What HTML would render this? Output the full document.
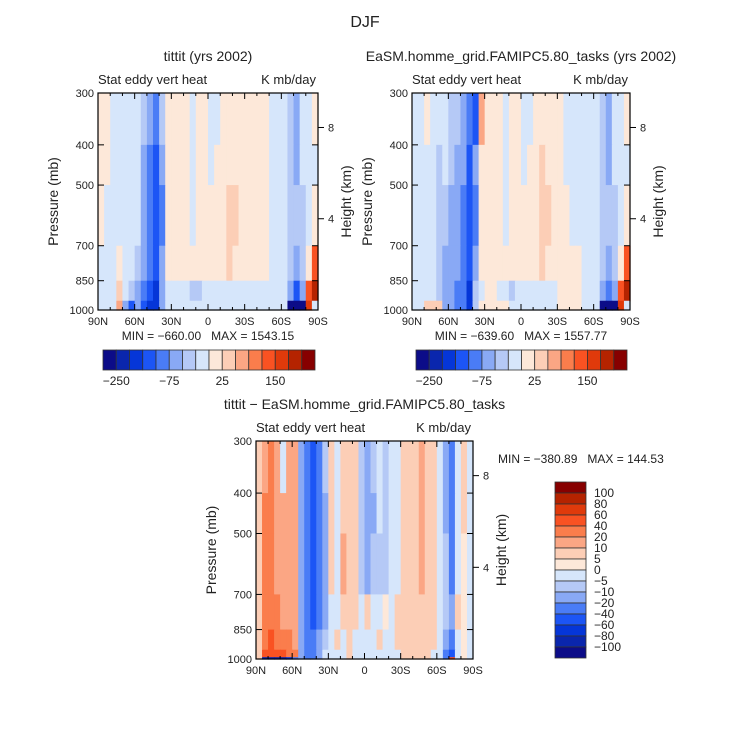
<!DOCTYPE html>
<html><head><meta charset="utf-8">
<style>
body{margin:0;background:#fff;}
svg{display:block;font-family:"Liberation Sans",sans-serif;}
text{white-space:pre;}
</style></head>
<body>
<svg id="fig" width="732" height="752" viewBox="0 0 732 752">
<text x="365" y="27" font-size="16" text-anchor="middle" fill="#222">DJF</text>
</svg>
<script>
// ---- data ----
const latTicks = ["90N","60N","30N","0","30S","60S","90S"];
const presTicks = [300,400,500,700,850,1000];
const heightTicks = [8,4];
const pressureBands = [300,400,500,700,850,950,990,1000];
const levelsAbs = [-250,-200,-150,-100,-75,-50,-25,0,25,50,75,100,150,200,250];
const levelsDiff = [-100,-80,-60,-40,-20,-10,-5,0,5,10,20,40,60,80,100];
const cbLabelsAbs = ["\u2212250","\u221275","25","150"];
const cbLabelsDiff = ["100","80","60","40","20","10","5","0","\u22125","\u221210","\u221220","\u221240","\u221260","\u221280","\u2212100"];
const colors = ["#0c0c88","#0a26ad","#0536d8","#1c55f5","#4a7cf6","#89a9f5","#b5c9f6","#d6e6fb","#fde8d9","#fcceb6","#fba684","#fa7d4c","#f95222","#e03a0b","#b52300","#870000"];

const grid1 = [
[5,5,-3,-3,-3,-3,-10,-40,-60,-80,-40,10,5,5,5,-3,5,5,-3,-3,5,5,5,5,5,5,5,5,-3,-3,-3,-30,-60,-3,-3,5],
[5,5,-3,-3,-3,-3,-10,-60,-80,-110,-60,5,5,5,5,-3,5,5,-3,5,5,5,5,5,5,5,5,5,-3,-3,-3,-30,-60,-10,-3,-3],
[5,-3,-3,-3,-3,-3,-10,-60,-90,-110,-80,5,5,5,5,-3,5,5,5,5,5,30,30,5,5,5,5,5,-3,-3,-3,-30,-50,-30,-3,5],
[-3,-3,-3,5,-3,-3,-30,-60,-90,-120,-60,5,5,5,5,5,5,5,5,5,5,30,5,5,5,5,5,5,-3,-3,-3,-30,-60,-30,5,100],
[-3,-3,-3,30,-3,-30,-60,-90,-110,-160,-60,-3,-3,-3,-3,-30,-30,-3,-3,-3,-3,-3,-3,-3,-3,-3,-3,-3,-3,-3,-3,-60,-120,-60,100,200],
[-3,-3,-3,60,-60,-120,-60,-120,-160,-160,-60,-3,-3,-3,-3,-3,-3,-3,-3,-3,-3,-3,-3,-3,-3,-3,-3,-3,-3,-3,-3,-300,-300,-300,150,-3],
[-3,-3,-3,60,-60,-120,-60,-120,-160,-160,-60,-3,-3,-3,-3,-3,-3,-3,-3,-3,-3,-3,-3,-3,-3,-3,-3,-3,-3,-3,-3,-300,-300,-300,150,-3]
];
const grid2 = [
[-3,-3,5,-3,-3,-3,-30,-30,-60,-80,-110,60,5,5,5,-3,5,5,-3,-3,5,5,5,5,5,-3,-3,-3,-3,-3,-3,-30,-60,-3,-3,5],
[-3,-3,-3,-3,-30,-3,-30,-60,-60,-110,-60,5,5,5,5,-3,5,5,-3,5,5,30,5,5,5,-3,-3,-3,-3,-3,-3,-30,-60,-10,-3,-3],
[-3,-3,-3,-3,-30,-30,-60,-60,-80,-110,-80,5,5,5,5,-3,5,5,5,5,5,30,30,5,5,5,-3,-3,-3,-3,-3,-30,-50,-30,-3,5],
[-3,-3,-3,-3,-30,-60,-60,-60,-80,-120,-60,5,5,5,5,5,5,5,5,5,5,30,5,5,5,5,5,5,-3,-3,-3,-30,-60,-30,5,100],
[-3,-3,-3,-3,-30,-60,-60,-80,-80,-160,-30,-3,5,5,-3,-3,-30,-3,-3,-3,-3,-3,-3,-3,5,5,5,5,-3,-3,-3,-60,-100,-60,100,200],
[-3,-3,30,30,30,-60,-60,-80,-100,-160,-30,5,5,5,5,5,-3,-3,-3,-3,-3,-3,-3,-3,5,5,5,5,-3,-3,-3,-300,-300,-300,150,-3],
[-3,-3,30,30,30,-60,-60,-80,-100,-160,-30,5,5,5,5,5,-3,-3,-3,-3,-3,-3,-3,-3,5,5,5,5,-3,-3,-3,-300,-300,-300,150,-3]
];
const grid3 = [
[5,15,30,10,-3,15,10,-20,-40,-60,-40,-10,5,-3,5,5,5,-10,-20,-10,-3,-10,-5,-3,5,5,5,10,5,5,-5,-20,-30,-5,5,-3],
[5,30,30,15,10,15,10,-20,-40,-60,-40,-20,5,-3,5,5,5,-10,-20,-20,-3,-10,-5,-3,5,5,5,10,5,5,-5,-20,-30,-5,5,-3],
[5,30,30,15,10,15,10,-20,-40,-60,-40,-20,5,-3,10,5,5,-10,-20,-10,-10,-10,-5,-3,5,5,5,10,5,5,-5,-10,-30,-5,3,-3],
[5,30,30,30,15,15,10,-20,-40,-60,-40,-20,-5,-3,5,5,5,-3,5,-3,-3,3,-3,5,5,5,5,5,5,5,-3,-10,-20,5,3,-3],
[5,30,40,30,30,30,15,-20,-40,-40,-20,-10,-5,5,-3,5,-3,-3,-3,-3,5,-3,-3,5,5,5,5,5,5,5,-3,-20,-40,-5,3,-3],
[5,40,50,40,40,30,20,-20,-40,-40,-20,-5,-5,-3,-3,5,-3,-3,-3,-3,-3,-3,-3,-3,5,5,5,5,5,-3,-3,-40,-60,-5,3,-3],
[5,-100,-100,-100,-100,-80,-40,-20,-40,-40,-20,-5,-5,-3,-3,5,-3,-3,-3,-3,-3,-3,-3,-3,5,5,5,5,5,-3,-3,-40,40,-5,3,-3]
];

const NS = "http://www.w3.org/2000/svg";
const svg = document.getElementById("fig");
function mk(tag, attrs, parent){
  const e = document.createElementNS(NS, tag);
  for (const k in attrs) e.setAttribute(k, attrs[k]);
  (parent||svg).appendChild(e);
  return e;
}
function txt(x,y,s,size,anchor,parent){
  const t = mk("text",{x:x,y:y,"font-size":size,"text-anchor":anchor||"middle",fill:"#222"},parent);
  t.textContent = s;
  return t;
}
function colorFor(v, levels){
  let i=0; while(i<levels.length && v>=levels[i]) i++;
  return colors[i];
}

function drawPanel(p){
  const g = mk("g",{});
  
  
  const W = p.x1-p.x0, H = p.y1-p.y0;
  const xScale = lat => p.x0 + (90-lat)/180*W;
  const yScale = pr => p.y0 + Math.log(pr/300)/Math.log(1000/300)*H;
  const ncol = p.grid[0].length, dl = 180/ncol;
  p.grid.forEach((row, r) => {
    const ya = yScale(pressureBands[r]), yb = yScale(pressureBands[r+1]);
    row.forEach((v, c) => {
      const xa = xScale(90-c*dl), xb = xScale(90-(c+1)*dl);
      const cell = mk("rect",{x:xa,y:ya,width:xb-xa+0.6,height:yb-ya+0.6,fill:colorFor(v,p.levels)},g);
      
      
    });
  });
  const frame = mk("rect",{x:p.x0,y:p.y0,width:W,height:H,fill:"none",stroke:"#000","stroke-width":1.2},g);
  
  
  presTicks.forEach(pr => {
    const y = yScale(pr);
    mk("line",{x1:p.x0,x2:p.x0+6,y1:y,y2:y,stroke:"#000"},g);
    mk("line",{x1:p.x1,x2:p.x1-6,y1:y,y2:y,stroke:"#000"},g);
    const t = txt(p.x0-4,y+4,String(pr),11,"end",g);
    
    
  });
  latTicks.forEach((s,i) => {
    const x = p.x0 + i/(latTicks.length-1)*W;
    mk("line",{x1:x,x2:x,y1:p.y1,y2:p.y1-6,stroke:"#000"},g);
    mk("line",{x1:x,x2:x,y1:p.y0,y2:p.y0+6,stroke:"#000"},g);
    const t = txt(x,p.y1+15,s,11,"middle",g);
    
    
  });
  for (let lat=80; lat>-90; lat-=10){
    if (lat%30===0) continue;
    const x = xScale(lat);
    mk("line",{x1:x,x2:x,y1:p.y1,y2:p.y1-3,stroke:"#000"},g);
    mk("line",{x1:x,x2:x,y1:p.y0,y2:p.y0+3,stroke:"#000"},g);
  }
  heightTicks.forEach(h => {
    const y = yScale(1000*Math.exp(-h/7.9));
    mk("line",{x1:p.x1,x2:p.x1+6,y1:y,y2:y,stroke:"#000"},g);
    const t = txt(p.x1+10,y+4,String(h),11,"start",g);
    
    
  });
  const cy = (p.y0+p.y1)/2;
  const yt = txt(0,0,"Pressure (mb)",14,"middle",g);
  yt.setAttribute("transform",`translate(${p.x0-40},${cy}) rotate(-90)`);
  
  
  const ht = txt(0,0,"Height (km)",14,"middle",g);
  ht.setAttribute("transform",`translate(${p.x1+33},${cy}) rotate(-90)`);
  
  
  const st = txt((p.x0+p.x1)/2,p.y0-32,p.title,14,"middle",g);
  
  
  const l1 = txt(p.x0,p.y0-9,"Stat eddy vert heat",13,"start",g);
  
  
  const l2 = txt(p.x1-2,p.y0-9,"K mb/day",13,"end",g);
  
  
  return g;
}

function hColorbar(x0,x1,y0,y1,name){
  const g = mk("g",{});
  
  
  const w = (x1-x0)/colors.length;
  colors.forEach((c,i) => {
    const b = mk("rect",{x:x0+i*w,y:y0,width:w,height:y1-y0,fill:c,stroke:"#333","stroke-width":0.8},g);
    
    
  });
  cbLabelsAbs.forEach((s,i) => {
    const t = txt(x0+(1+4*i)*w,y1+15,s,12,"middle",g);
    
    
  });
}

drawPanel({name:"panel-tittit",x0:98,x1:318,y0:93,y1:310,grid:grid1,levels:levelsAbs,title:"tittit (yrs 2002)"});
drawPanel({name:"panel-easm",x0:412,x1:630,y0:93,y1:310,grid:grid2,levels:levelsAbs,title:"EaSM.homme_grid.FAMIPC5.80_tasks (yrs 2002)"});
drawPanel({name:"panel-difference",x0:256,x1:473,y0:441,y1:659,grid:grid3,levels:levelsDiff,title:"tittit \u2212 EaSM.homme_grid.FAMIPC5.80_tasks"});

const m1 = txt(208,340,"MIN = \u2212660.00   MAX = 1543.15",12,"middle");


const m2 = txt(521,340,"MIN = \u2212639.60   MAX = 1557.77",12,"middle");


const m3 = txt(498,463,"MIN = \u2212380.89   MAX = 144.53",12,"start");



hColorbar(103,315,350,370,"colorbar-tittit");
hColorbar(416,627,350,370,"colorbar-easm");

(function(){
  const g = mk("g",{});
  
  
  const x0=555,x1=586,y0=482,y1=658, h=(y1-y0)/colors.length;
  colors.slice().reverse().forEach((c,i) => {
    const b = mk("rect",{x:x0,y:y0+i*h,width:x1-x0,height:h,fill:c,stroke:"#333","stroke-width":0.8},g);
    
    
  });
  cbLabelsDiff.forEach((s,i) => {
    const t = txt(594,y0+(i+1)*h+4,s,12,"start",g);
    
    
  });
})();
</script>
</body></html>
